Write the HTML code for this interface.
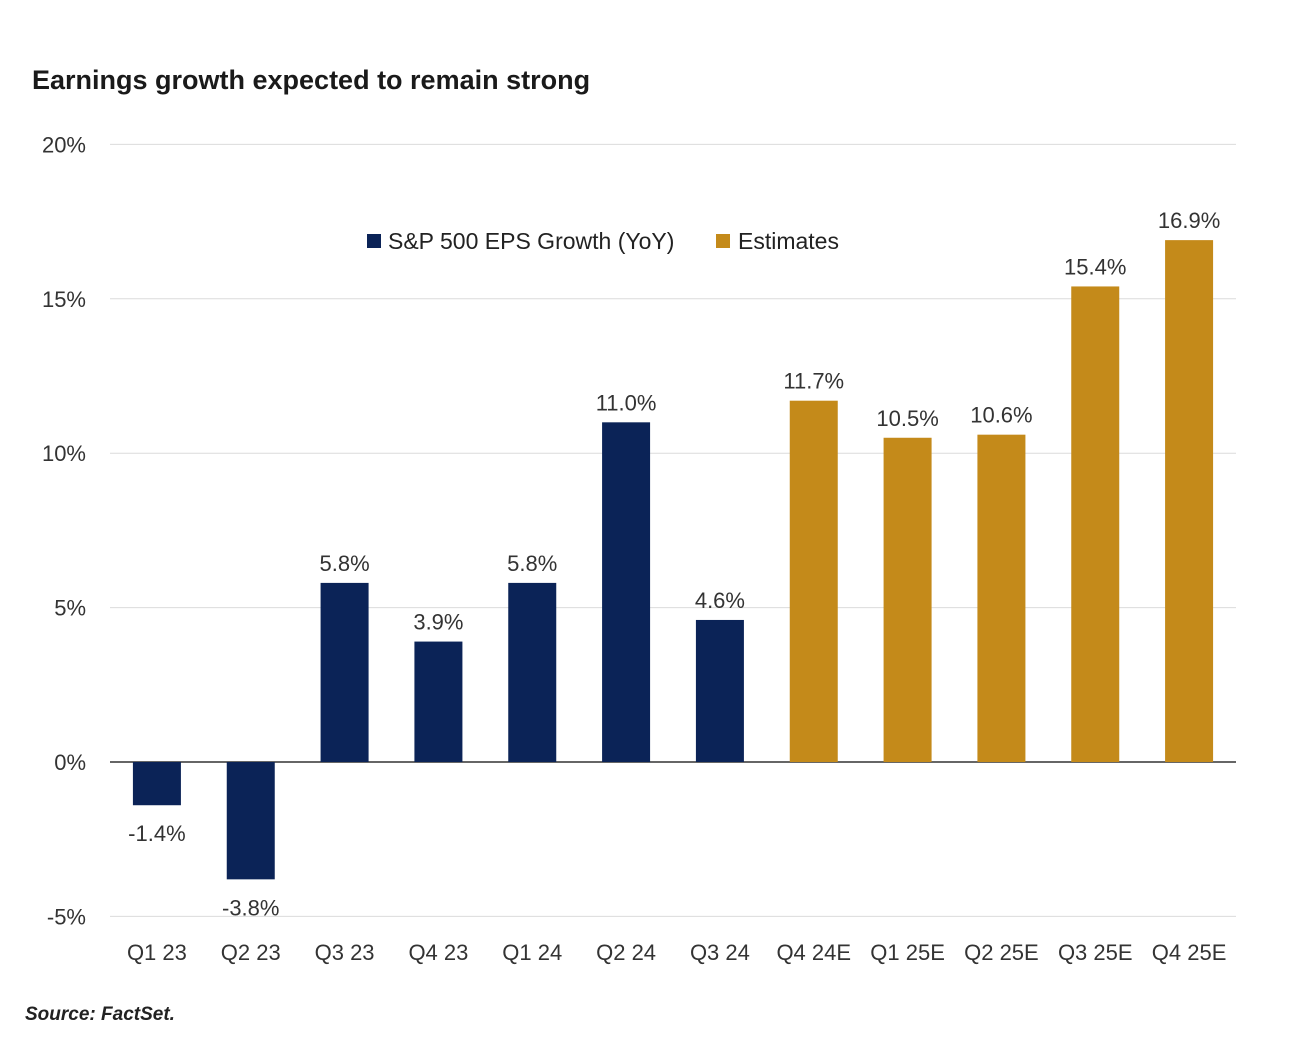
<!DOCTYPE html>
<html><head><meta charset="utf-8"><style>
body{margin:0;background:#fff;width:1292px;height:1043px;overflow:hidden;font-family:"Liberation Sans",sans-serif;}
svg{display:block}
</style></head><body>
<svg id="chart" width="1292" height="1043">
<text x="32" y="89" font-size="27" font-weight="bold" fill="#1a1a1a">Earnings growth expected to remain strong</text>
<g id="grid"></g><g id="bars"></g><g id="labels"></g>
<g>
<rect x="367" y="234" width="14" height="14" fill="#0b2357"/>
<text x="388" y="249" font-size="23" fill="#222">S&amp;P 500 EPS Growth (YoY)</text>
<rect x="716" y="234" width="14" height="14" fill="#c48a1a"/>
<text x="738" y="249" font-size="23" fill="#222">Estimates</text>
</g>
<text x="25" y="1020" font-size="19" font-style="italic" font-weight="600" fill="#222">Source: FactSet.</text>
</svg>
<script>
const categories=["Q1 23","Q2 23","Q3 23","Q4 23","Q1 24","Q2 24","Q3 24","Q4 24E","Q1 25E","Q2 25E","Q3 25E","Q4 25E"];
const values=[-1.4,-3.8,5.8,3.9,5.8,11.0,4.6,11.7,10.5,10.6,15.4,16.9];
const isEstimate=[false,false,false,false,false,false,false,true,true,true,true,true];
const yTicks=[-5,0,5,10,15,20];
const NS="http://www.w3.org/2000/svg";
const left=110,right=1236,y0px=762,perUnit=30.88;
const band=(right-left)/categories.length,barW=48;
const y=v=>y0px-v*perUnit;
const x=i=>left+band*(i+0.5);
function mk(t,a,p){const e=document.createElementNS(NS,t);for(const k in a)e.setAttribute(k,a[k]);document.getElementById(p).appendChild(e);return e;}
yTicks.forEach(t=>{
 const l=mk('line',{x1:left,x2:right,y1:y(t),y2:y(t),stroke:t===0?'#333':'#dcdcdc','stroke-width':t===0?1.5:1},'grid');
 
 
 const tx=mk('text',{x:86,y:y(t)+8,'text-anchor':'end','font-size':22,fill:'#333'},'grid');
 tx.textContent=t+'%';
 
 
});
categories.forEach((c,i)=>{
 const v=values[i];
 const r=mk('rect',{x:x(i)-barW/2,y:Math.min(y(v),y(0)),width:barW,height:Math.abs(y(v)-y(0)),fill:isEstimate[i]?'#c48a1a':'#0b2357'},'bars');
 
 
 const lb=mk('text',{x:x(i),y:v>=0?y(v)-12:y(v)+36,'text-anchor':'middle','font-size':22,fill:'#333'},'labels');
 lb.textContent=v.toFixed(1)+'%';
 
 
 const xl=mk('text',{x:x(i),y:960,'text-anchor':'middle','font-size':22,fill:'#333'},'labels');
 xl.textContent=c;
 
 
});
</script>
</body></html>
